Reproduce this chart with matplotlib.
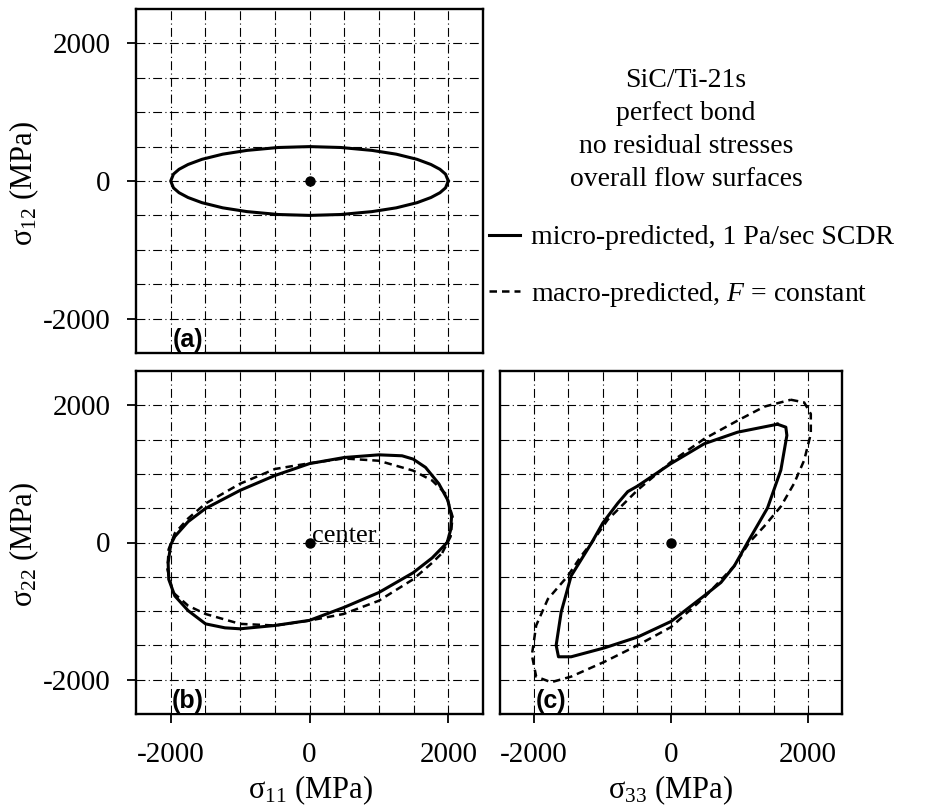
import numpy as np
import matplotlib.pyplot as plt

plt.rcParams['font.family'] = ['Liberation Serif', 'DejaVu Serif']
plt.rcParams['mathtext.fontset'] = 'custom'
plt.rcParams['mathtext.rm'] = 'Liberation Serif'
plt.rcParams['mathtext.it'] = 'Liberation Serif:italic'
plt.rcParams['axes.unicode_minus'] = False

# (a) sigma11 - sigma12 flow surface (micro)
a_x = [2000, 1960, 1880, 1750, 1550, 1250, 900, 450, 0, -450, -900, -1250, -1550, -1750, -1880, -1960,
       -2000, -1960, -1880, -1750, -1550, -1250, -900, -450, 0, 450, 900, 1250, 1550, 1750, 1880, 1960, 2000]
a_y = [0, 100, 170, 240, 315, 390, 445, 487, 500, 487, 445, 390, 315, 240, 170, 100,
       0, -100, -170, -240, -315, -390, -445, -487, -500, -487, -445, -390, -315, -240, -170, -100, 0]

# (b) sigma11 - sigma22
b_micro_x = [1984, 2033, 2047, 1994, 1864, 1672, 1493, 1334, 1000, 500, 0, -500, -1000, -1500, -1750,
             -1941, -2000, -2037, -2028, -1941, -1748, -1498, -1218, -1000, -500, 0, 500, 1000, 1493, 1767, 1984]
b_micro_y = [0, 183, 375, 615, 856, 1095, 1216, 1264, 1278, 1239, 1150, 976, 760, 495, 303,
             87, -33, -297, -538, -778, -994, -1186, -1244, -1258, -1210, -1135, -945, -729, -441, -225, 0]
b_macro_x = [1912, 2033, 2062, 1961, 1767, 1493, 997, 491, 0, -496, -1002, -1498, -1748, -1941,
             -2030, -2047, -1965, -1748, -1498, -1002, -496, 0, 491, 997, 1493, 1767, 1912]
b_macro_y = [-153, 86, 375, 712, 904, 1048, 1192, 1225, 1155, 1072, 856, 568, 351, 135,
             -100, -393, -729, -922, -1042, -1186, -1210, -1138, -1042, -850, -537, -297, -153]

# (c) sigma33 - sigma22
c_micro_x = [1557, 1679, 1694, 1606, 1411, 1119, 925, 730, 487, 0, -487, -973, -1460, -1645,
             -1679, -1606, -1460, -1158, -997, -778, -632, -487, 0, 487, 973, 1557]
c_micro_y = [1724, 1681, 1561, 1055, 503, 0, -342, -583, -776, -1151, -1378, -1536, -1666, -1666,
             -1498, -1016, -487, 0, 285, 573, 742, 824, 1151, 1440, 1608, 1724]
c_macro_x = [1752, 1947, 2044, 2044, 1947, 1800, 1606, 1363, 1143, 925, 487, 0, -487, -973, -1460,
             -1752, -1971, -2034, -1971, -1800, -1508, -1314, -1158, -925, -487, 0, 487, 973, 1363, 1752]
c_macro_y = [2081, 2042, 1874, 1585, 1199, 862, 525, 236, 0, -342, -800, -1233, -1498, -1739, -1955,
             -2037, -1955, -1642, -1209, -824, -487, -197, 0, 332, 766, 1175, 1512, 1777, 1980, 2081]

center_x, center_y = [0], [0]

fig = plt.figure(figsize=(9.48, 8.11), dpi=100)
W, H = 948, 811
ax_a = fig.add_axes([136 / W, 1 - 353 / H, 347 / W, 344 / H])
ax_b = fig.add_axes([136 / W, 1 - 714 / H, 347 / W, 343 / H])
ax_c = fig.add_axes([500 / W, 1 - 714 / H, 342 / W, 343 / H])

major = [-2000, 0, 2000]
minor = [-1500, -1000, -500, 500, 1000, 1500]
grid_ls = (0, (8, 3, 1, 3))

for ax, lab in [(ax_a, '(a)'), (ax_b, '(b)'), (ax_c, '(c)')]:
    ax.set_xlim(-2500, 2500)
    ax.set_ylim(-2500, 2500)
    ax.set_xticks(major)
    ax.set_yticks(major)
    ax.set_xticks(minor, minor=True)
    ax.set_yticks(minor, minor=True)
    ax.grid(which='both', color='black', lw=0.8, ls=grid_ls)
    ax.set_axisbelow(True)
    ax.tick_params(which='minor', length=0)
    ax.tick_params(which='major', direction='out', length=6.5, width=1.3,
                   labelsize=21)
    ax.tick_params(axis='y', pad=12)
    ax.tick_params(axis='x', pad=14)
    for s in ax.spines.values():
        s.set_linewidth(1.7)
    ax.plot(center_x, center_y, 'o', color='black', ms=6.5, zorder=5)
    ax.text(-1750, -2480, lab, ha='center', va='bottom', fontsize=18,
            fontweight='bold', family='Liberation Sans', zorder=6,
            bbox=dict(facecolor='white', edgecolor='none', pad=0.3))

ax_a.tick_params(bottom=False, labelbottom=False)
ax_c.tick_params(left=False, labelleft=False)

ax_a.plot(a_x, a_y, color='black', lw=2.2, solid_joinstyle='round')

l_micro, = ax_b.plot(b_micro_x, b_micro_y, color='black', lw=2.2, solid_joinstyle='round')
l_macro, = ax_b.plot(b_macro_x, b_macro_y, color='black', lw=1.8, ls=(0, (3, 2)))
ax_b.text(30, 0, 'center', fontsize=19, va='baseline', ha='left')

ax_c.plot(c_micro_x, c_micro_y, color='black', lw=2.2, solid_joinstyle='round')
ax_c.plot(c_macro_x, c_macro_y, color='black', lw=1.8, ls=(0, (3, 2)))

fig.text(24 / W, 1 - 184 / H, r'$\mathrm{\sigma}_{12}$ (MPa)', rotation=90,
         ha='center', va='center', fontsize=22)
fig.text(24 / W, 1 - 545 / H, r'$\mathrm{\sigma}_{22}$ (MPa)', rotation=90,
         ha='center', va='center', fontsize=22)
fig.text(310 / W, 1 - 790 / H, r'$\mathrm{\sigma}_{11}$ (MPa)', ha='center', va='center', fontsize=22)
fig.text(670 / W, 1 - 790 / H, r'$\mathrm{\sigma}_{33}$ (MPa)', ha='center', va='center', fontsize=22)

fig.text(686 / W, 1 - 130 / H,
         'SiC/Ti-21s\nperfect bond\nno residual stresses\noverall flow surfaces',
         ha='center', va='center', fontsize=20, linespacing=1.43)

fig.legend([l_micro, l_macro],
           ['micro-predicted, 1 Pa/sec SCDR', r'macro-predicted, $F$ = constant'],
           loc='upper left', bbox_to_anchor=(489 / W, 1 - 225 / H), frameon=False,
           borderpad=0, borderaxespad=0, fontsize=20, handlelength=1.1,
           handletextpad=0.4, labelspacing=1.05)

fig.savefig('out.png', dpi=100)
